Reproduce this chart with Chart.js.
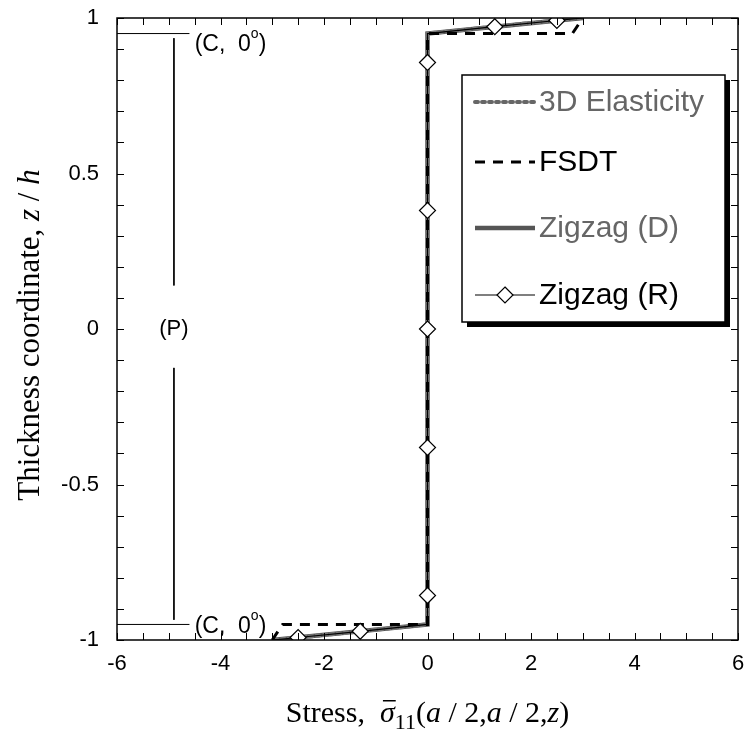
<!DOCTYPE html>
<html>
<head>
<meta charset="utf-8">
<script src="https://cdn.jsdelivr.net/npm/chart.js@4.4.0/dist/chart.umd.min.js"></script>
<style>
  html, body { margin: 0; padding: 0; background: #fff; }
</style>
</head>
<body>
<canvas id="chart" width="747" height="742"></canvas>
<script>
// --- Data: in-plane stress vs thickness coordinate ---
const elastX = [-2.95, 0, 0, 2.95];
const elastZ = [-1.0, -0.95, 0.95, 1.0];

const fsdtX = [-3.0, -2.8, 0, 0, 2.8, 3.0];
const fsdtZ = [-1.0, -0.95, -0.95, 0.95, 0.95, 1.0];

const zigDX = [-3.0, 0, 0, 3.0];
const zigDZ = [-1.0, -0.95, 0.95, 1.0];

const zigRX = [-3.0, -2.5, -1.3, 0, 0, 0, 0, 0, 0, 0, 1.3, 2.5, 3.0];
const zigRZ = [-1.0, -0.992, -0.972, -0.95, -0.857, -0.381, 0, 0.381, 0.857, 0.95, 0.972, 0.992, 1.0];
const zigRMark = [0, 1, 1, 0, 1, 1, 1, 1, 1, 0, 1, 1, 0];

// layer annotation guides
const faceLineX = [-6, -4.6];
const faceZ = [0.95, -0.95];
const coreBarX = [-4.9, -4.9];
const coreBarTopZ = [0.935, 0.14];
const coreBarBotZ = [-0.125, -0.935];

const xTicks = [-6, -4, -2, 0, 2, 4, 6];
const yTicks = [-1, -0.5, 0, 0.5, 1];

const pts = (xs, zs) => xs.map((x, i) => ({ x: x, y: zs[i] }));

// --- helpers for mixed-font text ---
function drawRuns(ctx, runs, x, y, barY) {
  let w = 0;
  runs.forEach(r => { ctx.font = r.f; w += ctx.measureText(r.t).width; });
  let cx = x - w / 2;
  runs.forEach(r => {
    ctx.font = r.f;
    const rw = ctx.measureText(r.t).width;
    ctx.fillText(r.t, cx, y + (r.dy || 0));
    if (r.bar) ctx.fillRect(cx + 3, y - barY, rw - 2, 1.5);
    cx += rw;
  });
}

const serif = '"Liberation Serif", "Times New Roman", serif';
const sans = '"Liberation Sans", Arial, sans-serif';

const decorPlugin = {
  id: 'decor',
  afterDraw(chart) {
    const { ctx, chartArea: a, scales } = chart;
    const sx = scales.x, sy = scales.y;
    ctx.save();
    ctx.fillStyle = '#000';
    ctx.strokeStyle = '#000';

    // frame
    ctx.lineWidth = 1.5;
    ctx.strokeRect(a.left, a.top, a.right - a.left, a.bottom - a.top);

    // inward minor ticks
    ctx.lineWidth = 1;
    ctx.beginPath();
    for (let v = -6; v <= 6.001; v += 0.5) {
      const px = Math.round(sx.getPixelForValue(v)) + 0.5;
      ctx.moveTo(px, a.bottom); ctx.lineTo(px, a.bottom - 7);
      ctx.moveTo(px, a.top); ctx.lineTo(px, a.top + 7);
    }
    for (let v = -1; v <= 1.001; v += 0.1) {
      const py = Math.round(sy.getPixelForValue(v)) + 0.5;
      ctx.moveTo(a.left, py); ctx.lineTo(a.left + 7, py);
      ctx.moveTo(a.right, py); ctx.lineTo(a.right - 7, py);
    }
    ctx.stroke();

    // layer labels
    ctx.textBaseline = 'middle';
    ctx.textAlign = 'left';
    [faceZ[0] - 0.035, faceZ[1] - 0.006].forEach(z => {
      const px = sx.getPixelForValue(-4.5);
      const py = sy.getPixelForValue(z);
      ctx.font = '23px ' + sans;
      ctx.fillText('(C,  0', px, py);
      const w = ctx.measureText('(C,  0').width;
      ctx.font = '14px ' + sans;
      ctx.fillText('o', px + w, py - 10);
      const w2 = ctx.measureText('o').width;
      ctx.font = '23px ' + sans;
      ctx.fillText(')', px + w + w2, py);
    });
    ctx.textAlign = 'center';
    ctx.font = '22px ' + sans;
    ctx.fillText('(P)', sx.getPixelForValue(-4.9), sy.getPixelForValue(0));

    // legend box
    const L = a.left + 345, T = a.top + 57, R = a.left + 608, B = a.top + 304;
    ctx.fillStyle = '#000';
    ctx.fillRect(L + 5, T + 5, R - L, B - T);
    ctx.fillStyle = '#fff';
    ctx.fillRect(L, T, R - L, B - T);
    ctx.lineWidth = 1.5;
    ctx.strokeRect(L, T, R - L, B - T);

    const rows = [
      { label: '3D Elasticity', color: '#666', lc: '#666', w: 4, dash: [3, 4], cap: 'round', y: 27 },
      { label: 'FSDT', color: '#000', lc: '#000', w: 3, dash: [10, 8], cap: 'butt', y: 87 },
      { label: 'Zigzag (D)', color: '#666', lc: '#555', w: 4.5, dash: [], cap: 'butt', y: 153 },
      { label: 'Zigzag (R)', color: '#000', lc: '#000', w: 1.2, dash: [], cap: 'butt', y: 220, marker: true }
    ];
    rows.forEach(r => {
      const yy = T + r.y;
      ctx.save();
      ctx.strokeStyle = r.lc;
      ctx.lineWidth = r.w;
      ctx.setLineDash(r.dash);
      ctx.lineCap = r.cap;
      ctx.beginPath();
      ctx.moveTo(L + 13, yy); ctx.lineTo(L + 73, yy);
      ctx.stroke();
      ctx.restore();
      if (r.marker) {
        const mx = L + 43;
        ctx.beginPath();
        ctx.moveTo(mx, yy - 8); ctx.lineTo(mx + 8, yy); ctx.lineTo(mx, yy + 8); ctx.lineTo(mx - 8, yy);
        ctx.closePath();
        ctx.fillStyle = '#fff'; ctx.fill();
        ctx.lineWidth = 1.2; ctx.strokeStyle = '#000'; ctx.stroke();
      }
      ctx.fillStyle = r.color;
      ctx.font = '30px ' + sans;
      ctx.textAlign = 'left';
      ctx.textBaseline = 'middle';
      ctx.fillText(r.label, L + 77, yy + 1);
    });

    // axis titles
    ctx.fillStyle = '#000';
    ctx.textBaseline = 'alphabetic';
    const fr = '30px ' + serif, fi = 'italic 30px ' + serif, fs = '22px ' + serif;
    drawRuns(ctx, [
      { t: 'Stress,  ', f: fr },
      { t: '\u03c3', f: fi, bar: true },
      { t: '11', f: fs, dy: 7 },
      { t: '(', f: fr },
      { t: 'a', f: fi },
      { t: ' / 2,', f: fr },
      { t: 'a', f: fi },
      { t: ' / 2,', f: fr },
      { t: 'z', f: fi },
      { t: ')', f: fr }
    ], (a.left + a.right) / 2, 722, 22);

    ctx.save();
    ctx.translate(39, (a.top + a.bottom) / 2 + 6);
    ctx.rotate(-Math.PI / 2);
    drawRuns(ctx, [
      { t: 'Thickness coordinate, ', f: '31px ' + serif },
      { t: 'z', f: 'italic 31px ' + serif },
      { t: ' / ', f: '31px ' + serif },
      { t: 'h', f: 'italic 31px ' + serif }
    ], 0, 0, 22);
    ctx.restore();

    ctx.restore();
  }
};

new Chart(document.getElementById('chart'), {
  type: 'scatter',
  data: {
    datasets: [
      {
        label: 'Zigzag (R)',
        data: pts(zigRX, zigRZ),
        showLine: true,
        borderColor: '#000',
        borderWidth: 1.2,
        pointStyle: 'rectRot',
        pointRadius: zigRMark.map(m => m ? 8 : 0),
        pointBackgroundColor: '#fff',
        pointBorderColor: '#000',
        pointBorderWidth: 1.2
      },
      {
        label: 'FSDT',
        data: pts(fsdtX, fsdtZ),
        showLine: true,
        borderColor: '#000',
        borderWidth: 3,
        borderDash: [10, 8],
        pointRadius: 0
      },
      {
        label: '3D Elasticity',
        data: pts(elastX, elastZ),
        showLine: true,
        borderColor: '#777',
        borderWidth: 4,
        borderDash: [3, 4],
        borderCapStyle: 'round',
        pointRadius: 0
      },
      {
        label: 'Zigzag (D)',
        data: pts(zigDX, zigDZ),
        showLine: true,
        borderColor: '#555',
        borderWidth: 4.5,
        pointRadius: 0
      },
      { data: pts(faceLineX, [faceZ[0], faceZ[0]]), showLine: true, borderColor: '#000', borderWidth: 1, pointRadius: 0 },
      { data: pts(faceLineX, [faceZ[1], faceZ[1]]), showLine: true, borderColor: '#000', borderWidth: 1, pointRadius: 0 },
      { data: pts(coreBarX, coreBarTopZ), showLine: true, borderColor: '#000', borderWidth: 1, pointRadius: 0 },
      { data: pts(coreBarX, coreBarBotZ), showLine: true, borderColor: '#000', borderWidth: 1, pointRadius: 0 }
    ]
  },
  options: {
    responsive: false,
    animation: false,
    layout: { padding: { left: 0, right: 9, top: 18, bottom: 0 } },
    plugins: { legend: { display: false }, tooltip: { enabled: false } },
    scales: {
      x: {
        type: 'linear', min: -6, max: 6,
        afterFit: s => { s.height = 102; s.paddingLeft = 0; s.paddingRight = 0; },
        afterBuildTicks: s => { s.ticks = xTicks.map(v => ({ value: v })); },
        grid: { display: false },
        border: { display: false },
        ticks: { color: '#000', padding: 3, font: { family: sans, size: 22 } }
      },
      y: {
        type: 'linear', min: -1, max: 1,
        afterFit: s => { s.width = 117; s.paddingTop = 0; s.paddingBottom = 0; },
        afterBuildTicks: s => { s.ticks = yTicks.map(v => ({ value: v })); },
        grid: { display: false },
        border: { display: false },
        ticks: {
          color: '#000', padding: 10, font: { family: sans, size: 22 },
          callback: v => String(v)
        }
      }
    }
  },
  plugins: [decorPlugin]
});
</script>
</body>
</html>
